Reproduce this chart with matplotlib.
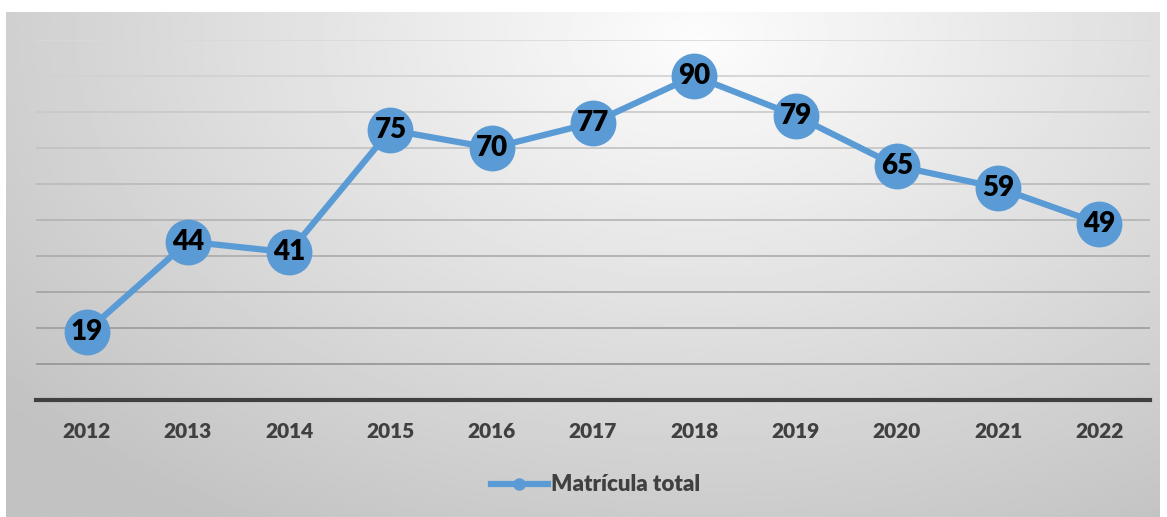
import numpy as np
import matplotlib.pyplot as plt
from matplotlib.lines import Line2D

years = ['2012', '2013', '2014', '2015', '2016', '2017', '2018', '2019', '2020', '2021', '2022']
matricula = [19, 44, 41, 75, 70, 77, 90, 79, 65, 59, 49]
serie_label = 'Matrícula total'

plt.rcParams['font.family'] = ['Lato', 'DejaVu Sans']

fig = plt.figure(figsize=(11.67, 5.17), dpi=100)

# gradient background (white in the middle-top, grey to the edges)
bg = fig.add_axes([6 / 1167, 0, 1154 / 1167, 505 / 517])
bx, by = np.meshgrid(np.linspace(0, 1, 400), np.linspace(1, 0, 200))
d = np.sqrt(((bx - 0.6) / 0.75) ** 2 + ((by - 0.95) / 1.1) ** 2)
shade = np.clip(0.99 - 0.22 * d, 0.76, 1)
bg.imshow(shade, cmap='gray', vmin=0, vmax=1, aspect='auto', extent=[0, 1, 0, 1])
bg.axis('off')

ax = fig.add_axes([36 / 1167, 117 / 517, 1114 / 1167, 360 / 517])
ax.patch.set_alpha(0)
x = np.arange(len(years))
ax.set_xlim(-0.5, len(years) - 0.5)
ax.set_ylim(0, 100)

# horizontal gridlines, lighter towards the top
for v in range(10, 101, 10):
    g = 0.55 + 0.3 * (v / 100)
    ax.axhline(v, color=(g, g, g), lw=1.2, zorder=0)

col = '#5B9BD5'
ax.plot(x, matricula, color=col, lw=4.5, marker='o', ms=32, zorder=3)
for xi, v in zip(x, matricula):
    ax.text(xi, v, str(v), ha='center', va='center', fontsize=20,
            fontweight='heavy', color='black', zorder=4)

for s in ['top', 'left', 'right']:
    ax.spines[s].set_visible(False)
ax.spines['bottom'].set_color('#404040')
ax.spines['bottom'].set_linewidth(3)
ax.set_yticks([])
ax.set_xticks(x)
ax.set_xticklabels(years, fontsize=15, fontweight='heavy', color='#404040')
ax.tick_params(axis='x', length=0, pad=16)

handle = Line2D([], [], color=col, lw=4.5, marker='o', ms=8)
leg = fig.legend([handle], [serie_label], loc='center', bbox_to_anchor=(0.51, 0.062),
                 frameon=False, handlelength=2.6, handletextpad=0.1,
                 prop={'size': 16, 'weight': 'heavy'})
for t in leg.get_texts():
    t.set_color('#404040')

fig.savefig('out.png', dpi=100)
